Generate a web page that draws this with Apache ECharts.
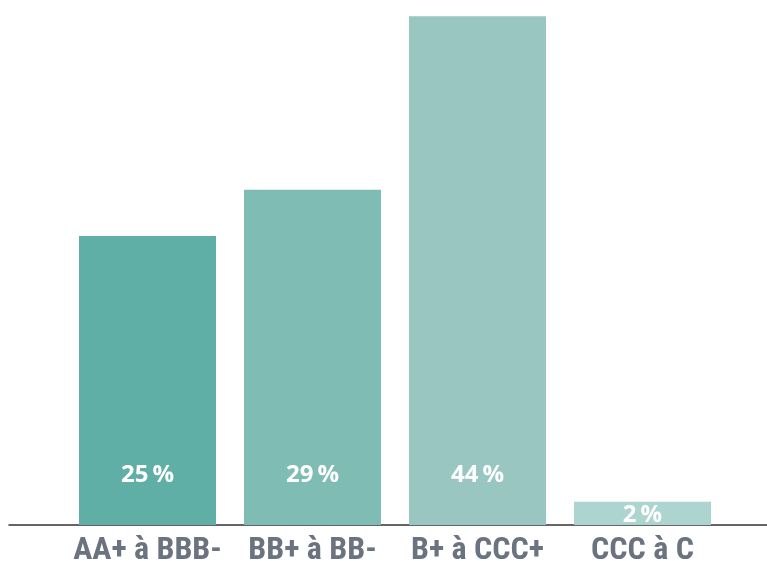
<!DOCTYPE html>
<html>
<head>
<meta charset="utf-8">
<script src="https://cdn.jsdelivr.net/npm/echarts@6/dist/echarts.min.js"></script>
<style>
  html, body { margin: 0; padding: 0; background: #ffffff; }
  #chart { width: 767px; height: 561px; }
</style>
</head>
<body>
<div id="chart"></div>
<script>
// Rating buckets and their share of the portfolio (%)
const categories = ['AA+ à BBB-', 'BB+ à BB-', 'B+ à CCC+', 'CCC à C'];
const shares = [25, 29, 44, 2];
const barColors = ['#5fafa6', '#7fbdb4', '#9ac6c1', '#aed4cf'];

const chart = echarts.init(document.getElementById('chart'), null, { renderer: 'canvas' });

const data = shares.map((v, i) => {
  const item = { value: v, itemStyle: { color: barColors[i] } };
  // the thin bar gets its label centred inside it
  if (v < 5) item.label = { position: 'inside', offset: [0, 2] };
  return item;
});

chart.setOption({
  animation: false,
  grid: [
    { left: 65, width: 660, top: 0, bottom: 36, containLabel: false, outerBoundsMode: 'none' },
    { left: 9, right: 0, top: 0, bottom: 36, containLabel: false, outerBoundsMode: 'none' }
  ],
  xAxis: [
    {
      type: 'category',
      gridIndex: 0,
      data: categories,
      axisLine: { show: false },
      axisTick: { show: false },
      axisLabel: {
        interval: 0,
        margin: 10,
        color: '#6b7380',
        fontFamily: '"Liberation Sans Narrow", "Roboto Condensed", Roboto, sans-serif',
        fontWeight: 'bold',
        fontSize: 32
      }
    },
    {
      // full-width baseline under the bars
      type: 'category',
      gridIndex: 1,
      data: [''],
      axisLine: { show: true, lineStyle: { color: '#333333', width: 1.5 } },
      axisTick: { show: false },
      axisLabel: { show: false }
    }
  ],
  yAxis: [
    { type: 'value', gridIndex: 0, min: 0, max: 45.4, show: false },
    { type: 'value', gridIndex: 1, min: 0, max: 1, show: false }
  ],
  series: [
    {
      type: 'bar',
      xAxisIndex: 0,
      yAxisIndex: 0,
      data: data,
      barWidth: 137,
      label: {
        show: true,
        position: 'insideBottom',
        distance: 38,
        formatter: p => p.value + '\u2009%',
        color: '#ffffff',
        fontFamily: '"Open Sans", Lato, sans-serif',
        fontWeight: 700,
        fontSize: 24
      }
    }
  ]
});
</script>
</body>
</html>
